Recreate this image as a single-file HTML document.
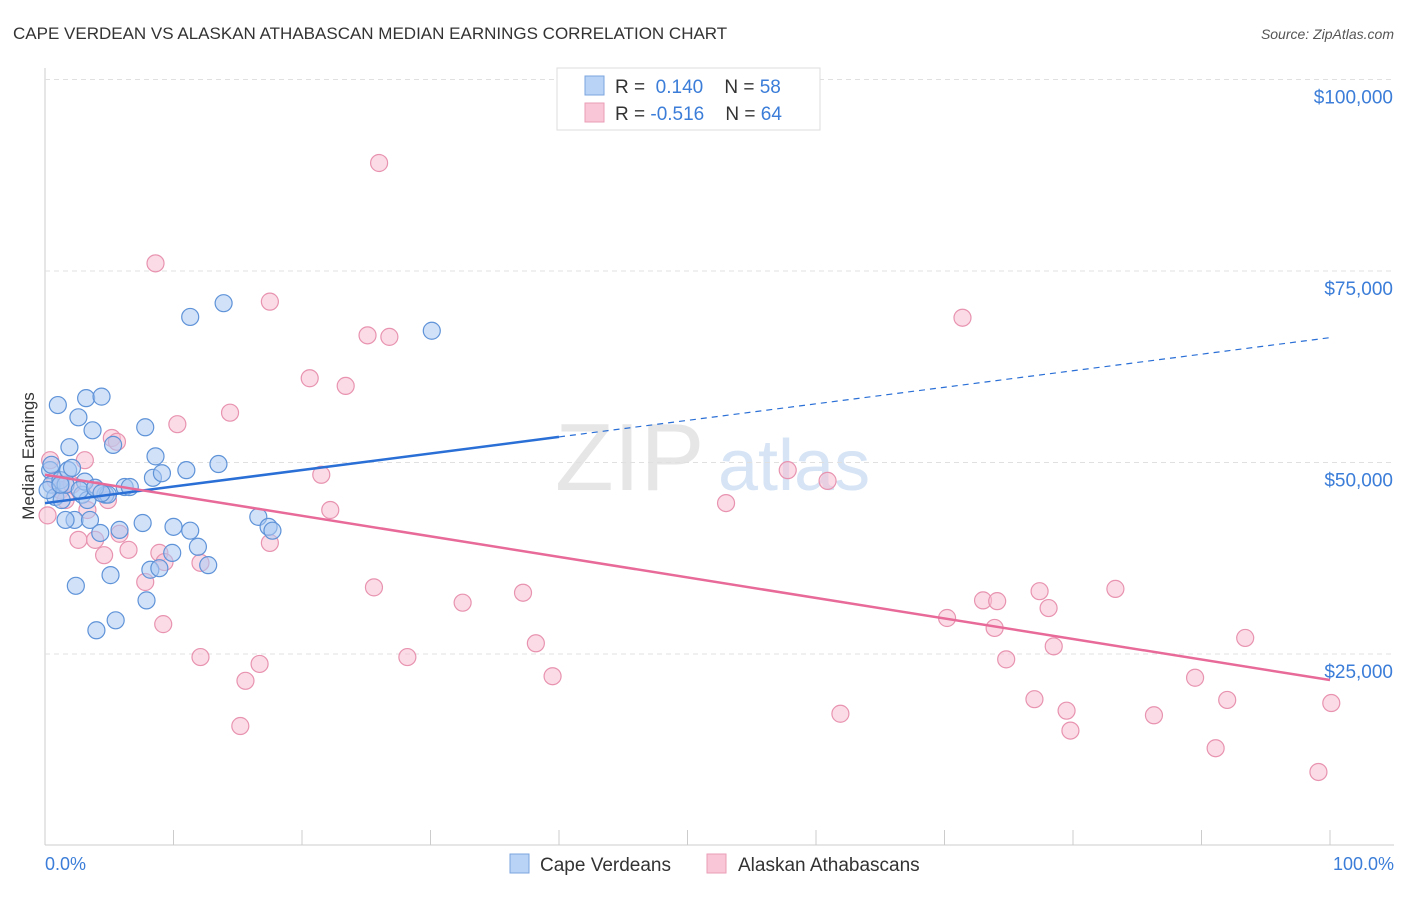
<!DOCTYPE html>
<html><head><meta charset="utf-8"><style>
body{margin:0;background:#fff;font-family:"Liberation Sans",sans-serif;}
svg text{font-family:"Liberation Sans",sans-serif;}
</style></head><body>
<svg id="chart" width="1406" height="892" xmlns="http://www.w3.org/2000/svg">
<text x="13" y="39" font-size="17" fill="#333">CAPE VERDEAN VS ALASKAN ATHABASCAN MEDIAN EARNINGS CORRELATION CHART</text>
<text x="1394" y="39" font-size="14" fill="#555" text-anchor="end" font-style="italic">Source: ZipAtlas.com</text>
<text x="555" y="490" font-size="96" fill="#e6e6e6" font-family="Liberation Serif">ZIP</text>
<text x="718" y="490" font-size="72" fill="#d6e4f5">atlas</text>
<g id="grid"></g><g id="pts"></g><g id="lines"></g>
<text transform="translate(34,456) rotate(-90)" font-size="17" fill="#333" text-anchor="middle">Median Earnings</text>
<text x="45" y="870" font-size="18" fill="#3b7dd8">0.0%</text>
<text x="1394" y="870" font-size="18" fill="#3b7dd8" text-anchor="end">100.0%</text>
<g>
<rect x="557" y="68" width="263" height="62" fill="#fff" stroke="#ddd"/>
<rect x="585" y="76" width="19" height="19" fill="#b8d3f5" stroke="#7aa5de"/>
<rect x="585" y="103" width="19" height="19" fill="#f8c6d6" stroke="#ea9db6"/>
<text x="615" y="93" font-size="19" fill="#333">R = <tspan fill="#3b7dd8">&#160;0.140</tspan>&#160;&#160;&#160; N = <tspan fill="#3b7dd8">58</tspan></text>
<text x="615" y="120" font-size="19" fill="#333">R = <tspan fill="#3b7dd8">-0.516</tspan>&#160;&#160;&#160; N = <tspan fill="#3b7dd8">64</tspan></text>
</g>
<g>
<rect x="510" y="854" width="19" height="19" fill="#b8d3f5" stroke="#7aa5de"/>
<text x="540" y="871" font-size="19" fill="#333">Cape Verdeans</text>
<rect x="707" y="854" width="19" height="19" fill="#f8c6d6" stroke="#ea9db6"/>
<text x="738" y="871" font-size="19" fill="#333">Alaskan Athabascans</text>
</g>
</svg>
<script>
const yTicks=[25000,50000,75000,100000];
const yTickLabels=["$25,000","$50,000","$75,000","$100,000"];
const blueX=[0.4,0.5,0.8,1.0,1.2,1.3,1.6,1.8,1.9,2.1,2.3,2.4,2.6,2.9,3.1,3.2,3.3,3.5,3.7,4.0,4.3,4.4,4.7,4.9,5.1,5.3,5.5,5.8,6.2,6.6,7.6,7.8,7.9,8.2,8.4,8.6,8.9,9.1,9.9,10.0,11.0,11.3,11.3,11.9,12.7,13.5,13.9,16.6,17.4,17.7,30.1,0.2,0.5,1.2,1.6,2.7,3.9,4.4];
const blueY=[49.0,47.1,45.5,57.5,47.7,45.1,47.1,49.0,52.0,49.3,42.5,33.9,55.9,45.8,47.5,58.4,45.1,42.5,54.2,28.1,40.8,58.6,45.8,45.8,35.3,52.3,29.4,41.2,46.8,46.8,42.1,54.6,32.0,36.0,48.0,50.8,36.2,48.6,38.2,41.6,49.0,69.0,41.1,39.0,36.6,49.8,70.8,42.9,41.6,41.1,67.2,46.4,49.7,47.1,42.5,46.4,46.7,46.0];
const pinkX=[0.4,0.2,0.8,1.2,1.6,2.1,2.6,3.1,3.3,3.9,4.1,4.6,4.9,5.2,5.6,5.8,6.5,7.8,8.6,8.9,9.2,9.3,10.3,12.1,12.1,14.4,15.2,15.6,16.7,17.5,17.5,20.6,21.5,22.2,23.4,25.1,25.6,26.0,26.8,28.2,32.5,37.2,38.2,39.5,53.0,57.8,60.9,61.9,70.2,71.4,73.0,73.9,74.1,74.8,77.0,77.4,78.1,78.5,79.5,79.8,83.3,86.3,89.5,91.1,92.0,93.4,99.1,100.1];
const pinkY=[50.3,43.1,47.7,46.4,45.1,47.1,39.9,50.3,43.8,39.9,46.4,37.9,45.1,53.2,52.7,40.7,38.6,34.4,76.0,38.2,28.9,37.0,55.0,24.6,36.9,56.5,15.6,21.5,23.7,71.0,39.5,61.0,48.4,43.8,60.0,66.6,33.7,89.1,66.4,24.6,31.7,33.0,26.4,22.1,44.7,49.0,47.6,17.2,29.7,68.9,32.0,28.4,31.9,24.3,19.1,33.2,31.0,26.0,17.6,15.0,33.5,17.0,21.9,12.7,19.0,27.1,9.6,18.6];
const blueTrend=[44.7,66.3];const pinkTrend=[48.4,21.6];const blueSolidEnd=40;
const NS="http://www.w3.org/2000/svg";
const xs=p=>45+p*12.85, ys=k=>845.5-k*7.66;
function mk(t,a,p){const e=document.createElementNS(NS,t);for(const k in a)e.setAttribute(k,a[k]);p.appendChild(e);return e;}
const grid=document.getElementById('grid');
mk('line',{x1:45,y1:68,x2:45,y2:845,stroke:'#ccc'},grid);
mk('line',{x1:45,y1:845,x2:1394,y2:845,stroke:'#ccc'},grid);
for(let i=0;i<=10;i++){const l=mk('line',{x1:xs(i*10),y1:830,x2:xs(i*10),y2:845,stroke:'#ccc'},grid);}
yTicks.forEach((v,i)=>{const y=ys(v/1000);
const l=mk('line',{x1:45,y1:y,x2:1394,y2:y,stroke:'#e0e0e0','stroke-dasharray':'5,4'},grid);

const t=mk('text',{x:1393,y:y+24,'font-size':19,fill:'#3b7dd8','text-anchor':'end'},grid);t.textContent=yTickLabels[i];
});
const pts=document.getElementById('pts');
function dots(X,Y,f,s,n){X.forEach((x,i)=>{const c=mk('circle',{cx:xs(x),cy:ys(Y[i]),r:8.5,fill:f,'fill-opacity':0.55,stroke:s,'stroke-width':1.2},pts);
});}
dots(pinkX,pinkY,'#f8c0d2','#e893b0','alaskan-athabascan-point');
dots(blueX,blueY,'#aac8f2','#5f93d8','cape-verdean-point');
const L=document.getElementById('lines');
const bAt=p=>blueTrend[0]+(blueTrend[1]-blueTrend[0])*p/100;
let e=mk('line',{x1:xs(0),y1:ys(bAt(0)),x2:xs(blueSolidEnd),y2:ys(bAt(blueSolidEnd)),stroke:'#2a6fd6','stroke-width':2.5},L);

e=mk('line',{x1:xs(blueSolidEnd),y1:ys(bAt(blueSolidEnd)),x2:xs(100),y2:ys(bAt(100)),stroke:'#2a6fd6','stroke-width':1.2,'stroke-dasharray':'6,5'},L);

e=mk('line',{x1:xs(0),y1:ys(pinkTrend[0]),x2:xs(100),y2:ys(pinkTrend[1]),stroke:'#e86a98','stroke-width':2.5},L);

</script>
</body></html>
